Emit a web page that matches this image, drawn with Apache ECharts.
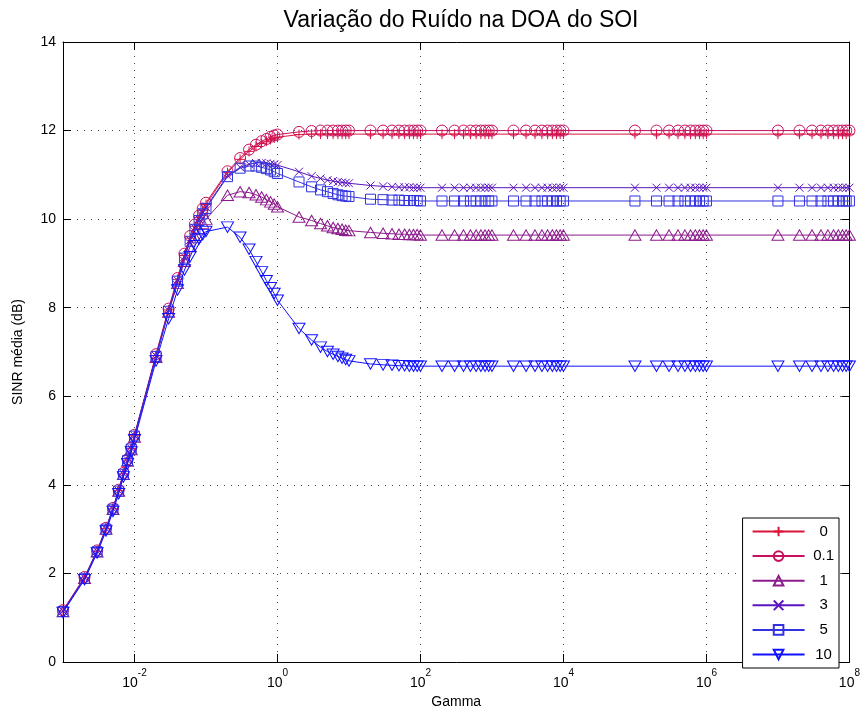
<!DOCTYPE html>
<html>
<head>
<meta charset="utf-8">
<script src="https://cdn.jsdelivr.net/npm/echarts@6/dist/echarts.min.js"></script>
<style>html,body{margin:0;padding:0;background:#fff}#c{width:863px;height:715px}</style>
</head>
<body>
<div id="c"></div>
<script>
// Gamma values (x)
const gamma = [
  0.001,0.002,0.003,0.004,0.005,0.006,0.007,0.008,0.009,
  0.01,0.02,0.03,0.04,0.05,0.06,0.07,0.08,0.09,
  0.1,0.2,0.3,0.4,0.5,0.6,0.7,0.8,0.9,
  1,2,3,4,5,6,7,8,9,
  10,20,30,40,50,60,70,80,90,
  100,200,300,400,500,600,700,800,900,
  1000,2000,3000,4000,5000,6000,7000,8000,9000,
  10000,
  100000,200000,300000,400000,500000,600000,700000,800000,900000,
  1000000,
  10000000,20000000,30000000,40000000,50000000,60000000,70000000,80000000,90000000,
  100000000
];
const seriesNames = ['0','0.1','1','3','5','10'];
// SINR média (dB)
const sinr0 = [
  1.15,1.90,2.50,3.01,3.46,3.87,4.25,4.56,4.82,
  5.11,6.92,7.95,8.64,9.18,9.57,9.84,10.04,10.20,
  10.33,11.05,11.35,11.53,11.64,11.71,11.76,11.80,11.83,
  11.85,11.91,11.92,11.92,11.92,11.92,11.92,11.92,11.92,
  11.92,11.92,11.92,11.92,11.92,11.92,11.92,11.92,11.92,
  11.92,11.92,11.92,11.92,11.92,11.92,11.92,11.92,11.92,
  11.92,11.92,11.92,11.92,11.92,11.92,11.92,11.92,11.92,
  11.92,
  11.92,11.92,11.92,11.92,11.92,11.92,11.92,11.92,11.92,
  11.92,
  11.92,11.92,11.92,11.92,11.92,11.92,11.92,11.92,11.92,
  11.92
];
const sinr01 = [
  1.17,1.92,2.52,3.03,3.48,3.89,4.27,4.58,4.84,
  5.13,6.95,7.98,8.67,9.22,9.62,9.88,10.08,10.24,
  10.37,11.08,11.38,11.57,11.68,11.76,11.81,11.86,11.89,
  11.91,11.97,11.99,12.00,12.00,12.00,12.00,12.00,12.00,
  12.00,12.00,12.00,12.00,12.00,12.00,12.00,12.00,12.00,
  12.00,12.00,12.00,12.00,12.00,12.00,12.00,12.00,12.00,
  12.00,12.00,12.00,12.00,12.00,12.00,12.00,12.00,12.00,
  12.00,
  12.00,12.00,12.00,12.00,12.00,12.00,12.00,12.00,12.00,
  12.00,
  12.00,12.00,12.00,12.00,12.00,12.00,12.00,12.00,12.00,
  12.00
];
const sinr1 = [
  1.14,1.89,2.49,3.00,3.45,3.86,4.24,4.54,4.80,
  5.08,6.88,7.90,8.55,9.05,9.38,9.60,9.78,9.91,
  10.00,10.54,10.62,10.60,10.55,10.50,10.44,10.39,10.34,
  10.28,10.05,9.97,9.90,9.85,9.81,9.79,9.77,9.75,
  9.74,9.70,9.68,9.67,9.66,9.66,9.65,9.65,9.65,
  9.64,9.64,9.64,9.64,9.64,9.64,9.64,9.64,9.64,
  9.64,9.64,9.64,9.64,9.64,9.64,9.64,9.64,9.64,
  9.64,
  9.64,9.64,9.64,9.64,9.64,9.64,9.64,9.64,9.64,
  9.64,
  9.64,9.64,9.64,9.64,9.64,9.64,9.64,9.64,9.64,
  9.64
];
const sinr3 = [
  1.15,1.90,2.50,3.01,3.46,3.87,4.25,4.56,4.82,
  5.11,6.91,7.94,8.62,9.15,9.53,9.80,10.00,10.15,
  10.27,10.98,11.17,11.24,11.27,11.27,11.26,11.25,11.24,
  11.22,11.07,10.97,10.92,10.88,10.86,10.84,10.83,10.82,
  10.81,10.76,10.74,10.73,10.72,10.72,10.72,10.71,10.71,
  10.71,10.71,10.71,10.71,10.71,10.71,10.71,10.71,10.71,
  10.71,10.71,10.71,10.71,10.71,10.71,10.71,10.71,10.71,
  10.71,
  10.71,10.71,10.71,10.71,10.71,10.71,10.71,10.71,10.71,
  10.71,
  10.71,10.71,10.71,10.71,10.71,10.71,10.71,10.71,10.71,
  10.71
];
const sinr5 = [
  1.14,1.89,2.49,3.00,3.45,3.86,4.24,4.55,4.81,
  5.10,6.90,7.92,8.60,9.12,9.50,9.77,9.97,10.12,
  10.24,10.96,11.15,11.20,11.20,11.17,11.14,11.11,11.07,
  11.03,10.84,10.73,10.66,10.62,10.58,10.55,10.53,10.52,
  10.51,10.45,10.44,10.43,10.43,10.42,10.42,10.42,10.42,
  10.41,10.41,10.41,10.41,10.41,10.41,10.41,10.41,10.41,
  10.41,10.41,10.41,10.41,10.41,10.41,10.41,10.41,10.41,
  10.41,
  10.41,10.41,10.41,10.41,10.41,10.41,10.41,10.41,10.41,
  10.41,
  10.41,10.41,10.41,10.41,10.41,10.41,10.41,10.41,10.41,
  10.41
];
const sinr10 = [
  1.12,1.86,2.46,2.96,3.40,3.80,4.18,4.48,4.74,
  5.02,6.80,7.75,8.40,8.85,9.15,9.40,9.55,9.65,
  9.72,9.82,9.59,9.32,9.04,8.81,8.61,8.45,8.32,
  8.17,7.53,7.27,7.11,7.01,6.95,6.90,6.86,6.83,
  6.80,6.73,6.71,6.70,6.69,6.69,6.68,6.68,6.68,
  6.68,6.68,6.68,6.68,6.68,6.68,6.68,6.68,6.68,
  6.68,6.68,6.68,6.68,6.68,6.68,6.68,6.68,6.68,
  6.68,
  6.68,6.68,6.68,6.68,6.68,6.68,6.68,6.68,6.68,
  6.68,
  6.68,6.68,6.68,6.68,6.68,6.68,6.68,6.68,6.68,
  6.68
];
const yTicks = [0,2,4,6,8,10,12,14];

const FONT = '"Liberation Sans", Arial, Helvetica, sans-serif';
const colors = ['#dc143c','#c8105e','#8c1a8c','#5a14c0','#3232e0','#1010ff'];
const symbols = [
  'path://M5,0L5,10M0,5L10,5',
  'circle',
  'path://M5,0L10,8.66L0,8.66Z',
  'path://M0,0L10,10M10,0L0,10',
  'rect',
  'path://M0,0L10,0L5,8.66Z'
];
const symbolSizes = [10, 11, [12,10.5], 8, 10, [12,10.5]];
const allData = [sinr0, sinr01, sinr1, sinr3, sinr5, sinr10];

const series = allData.map((vals, i) => ({
  name: seriesNames[i],
  type: 'line',
  data: gamma.map((g, k) => [g, vals[k]]),
  symbol: symbols[i],
  symbolSize: symbolSizes[i],
  showAllSymbol: true,
  clip: false,
  lineStyle: { color: colors[i], width: 1 },
  itemStyle: { color: 'transparent', borderColor: colors[i], borderWidth: 1 },
  emphasis: { disabled: true },
  z: 2 + i
}));

const gridLine = { show: true, lineStyle: { color: '#444', width: 1, type: [1, 6] } };

const chart = echarts.init(document.getElementById('c'), null, { renderer: 'canvas' });
chart.setOption({
  animation: false,
  backgroundColor: '#fff',
  title: {
    text: 'Variação do Ruído na DOA do SOI',
    left: 456, top: 4, textAlign: 'center',
    textStyle: { fontFamily: FONT, fontSize: 23, fontWeight: 'normal', color: '#000' }
  },
  grid: { left: 63, right: 13, top: 42, bottom: 53, containLabel: false },
  legend: {
    orient: 'vertical',
    right: 24, top: 518,
    itemWidth: 52, itemHeight: 12, itemGap: 9.6,
    padding: [6, 5, 6, 9],
    borderColor: '#000', borderWidth: 1, backgroundColor: '#fff',
    formatter: n => '{c|' + n + '}',
    textStyle: { fontFamily: FONT, fontSize: 15, color: '#000', rich: { c: { width: 28, align: 'center', fontFamily: FONT, fontSize: 15 } } },
    data: seriesNames
  },
  xAxis: [{
    type: 'log', logBase: 100, min: 0.001, max: 100000000,
    name: 'Gamma', nameLocation: 'middle', nameGap: 33,
    nameTextStyle: { fontFamily: FONT, fontSize: 14, color: '#000' },
    axisLine: { show: true, onZero: false, lineStyle: { color: '#000', width: 1 } },
    axisTick: { show: true, inside: true, length: 8, lineStyle: { color: '#000' } },
    minorTick: { show: false },
    splitLine: gridLine,
    axisLabel: {
      margin: 6,
      formatter: v => { const e = Math.round(Math.log10(v)); if (e % 2 !== 0) return ''; return '{b|10}{s|' + e + '}'; },
      rich: {
        b: { fontFamily: FONT, fontSize: 14, color: '#000', lineHeight: 22, verticalAlign: 'bottom' },
        s: { fontFamily: FONT, fontSize: 10, color: '#000', lineHeight: 22, verticalAlign: 'top' }
      }
    }
  }, {
    type: 'log', logBase: 100, min: 0.001, max: 100000000, position: 'top',
    axisLine: { show: true, onZero: false, lineStyle: { color: '#000', width: 1 } },
    axisTick: { show: true, inside: true, length: 8, lineStyle: { color: '#000' } },
    axisLabel: { show: false }, splitLine: { show: false }
  }],
  yAxis: [{
    type: 'value', min: yTicks[0], max: yTicks[yTicks.length - 1], interval: 2,
    name: 'SINR média (dB)', nameLocation: 'middle', nameGap: 38,
    nameTextStyle: { fontFamily: FONT, fontSize: 14, color: '#000' },
    axisLine: { show: true, onZero: false, lineStyle: { color: '#000', width: 1 } },
    axisTick: { show: true, inside: true, length: 8, lineStyle: { color: '#000' } },
    splitLine: gridLine,
    axisLabel: { margin: 7, fontFamily: FONT, fontSize: 14, color: '#000' }
  }, {
    type: 'value', min: yTicks[0], max: yTicks[yTicks.length - 1], interval: 2, position: 'right',
    axisLine: { show: true, onZero: false, lineStyle: { color: '#000', width: 1 } },
    axisTick: { show: true, inside: true, length: 8, lineStyle: { color: '#000' } },
    axisLabel: { show: false }, splitLine: { show: false }
  }],
  series: series
});
</script>
</body>
</html>
